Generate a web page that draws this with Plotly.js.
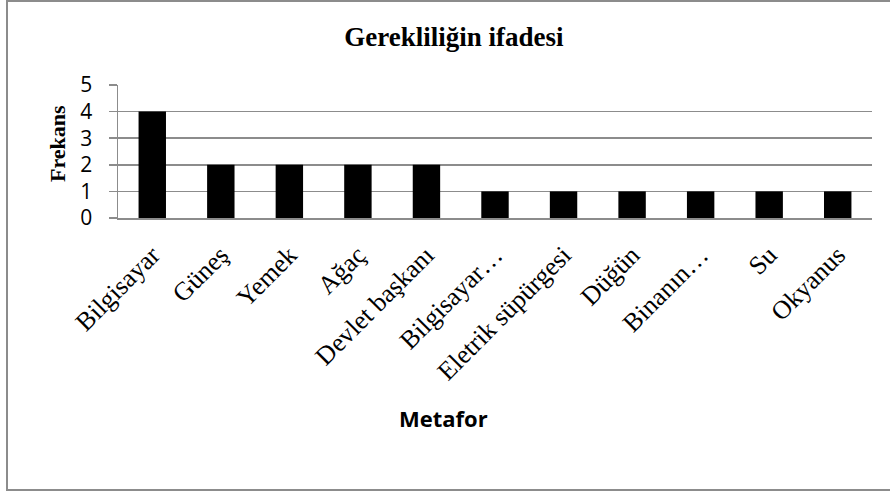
<!DOCTYPE html>
<html>
<head>
<meta charset="utf-8">
<script src="https://cdn.plot.ly/plotly-3.0.1.min.js"></script>
<style>
  html, body { margin: 0; padding: 0; background: #ffffff; }
  #chart { width: 890px; height: 495px; }
</style>
</head>
<body>
<div id="chart"></div>
<script>
const categories = ["Bilgisayar", "Güneş", "Yemek", "Ağaç", "Devlet başkanı", "Bilgisayar…", "Eletrik süpürgesi", "Düğün", "Binanın…", "Su", "Okyanus"];
const frequencies = [4, 2, 2, 2, 2, 1, 1, 1, 1, 1, 1];
const yTicks = [0, 1, 2, 3, 4, 5];

const chartTitle = "Gerekliliğin ifadesi";
const yTitle = "Frekans";
const xTitle = "Metafor";

// plot area in pixels
const L = 118, R = 18, T = 85, B = 277, W = 890, H = 495;
const pw = W - L - R, ph = H - T - B;
const px = x => (x - L) / pw;
const py = y => (H - B - y) / ph;

const trace = {
  type: "bar",
  x: categories,
  y: frequencies,
  marker: { color: "#000000", line: { width: 0 } },
  hoverinfo: "x+y"
};

const layout = {
  width: W, height: H,
  margin: { l: L, r: R, t: T, b: B, pad: 0 },
  paper_bgcolor: "#ffffff",
  plot_bgcolor: "#ffffff",
  showlegend: false,
  bargap: 0.6,
  title: {
    text: "<b>" + chartTitle + "</b>",
    font: { family: "Liberation Serif, Times New Roman, serif", size: 27, color: "#000000" },
    x: 454 / W, xref: "container", xanchor: "center",
    y: 1 - 37 / H, yref: "container", yanchor: "middle"
  },
  xaxis: {
    type: "category",
    tickangle: -45,
    tickfont: { family: "Liberation Serif, Times New Roman, serif", size: 26, color: "#000000" },
    showgrid: false,
    showline: true, linecolor: "#8c8c8c", linewidth: 1.5,
    ticks: "",
    ticklabelstandoff: 10,
    zeroline: false,
    fixedrange: true
  },
  yaxis: {
    range: [0, 5],
    tickvals: yTicks,
    ticktext: yTicks.map(String),
    tickfont: { family: "Open Sans, Noto Sans, sans-serif", size: 21, color: "#000000" },
    showgrid: true, gridcolor: "#8c8c8c", gridwidth: 1.5,
    showline: true, linecolor: "#8c8c8c", linewidth: 1.5,
    ticks: "outside", ticklen: 8, tickcolor: "#8c8c8c", tickwidth: 1.5,
    ticklabelstandoff: 12,
    zeroline: false,
    fixedrange: true
  },
  annotations: [
    {
      text: "<b>" + yTitle + "</b>",
      xref: "paper", yref: "paper",
      x: px(57), y: py(143),
      xanchor: "center", yanchor: "middle",
      textangle: -90, showarrow: false,
      font: { family: "Liberation Serif, Times New Roman, serif", size: 22, color: "#000000" }
    },
    {
      text: "<b>" + xTitle + "</b>",
      xref: "paper", yref: "paper",
      x: px(443), y: py(418),
      xanchor: "center", yanchor: "middle",
      showarrow: false,
      font: { family: "Open Sans, Noto Sans, sans-serif", size: 22, color: "#000000" }
    }
  ],
  shapes: [
    {
      type: "rect", xref: "paper", yref: "paper",
      x0: px(7), x1: px(896), y0: py(490), y1: py(1),
      line: { color: "#8c8c8c", width: 2 },
      fillcolor: "rgba(0,0,0,0)",
      layer: "below"
    }
  ]
};

Plotly.newPlot("chart", [trace], layout, { displayModeBar: false, staticPlot: true });
</script>
</body>
</html>
